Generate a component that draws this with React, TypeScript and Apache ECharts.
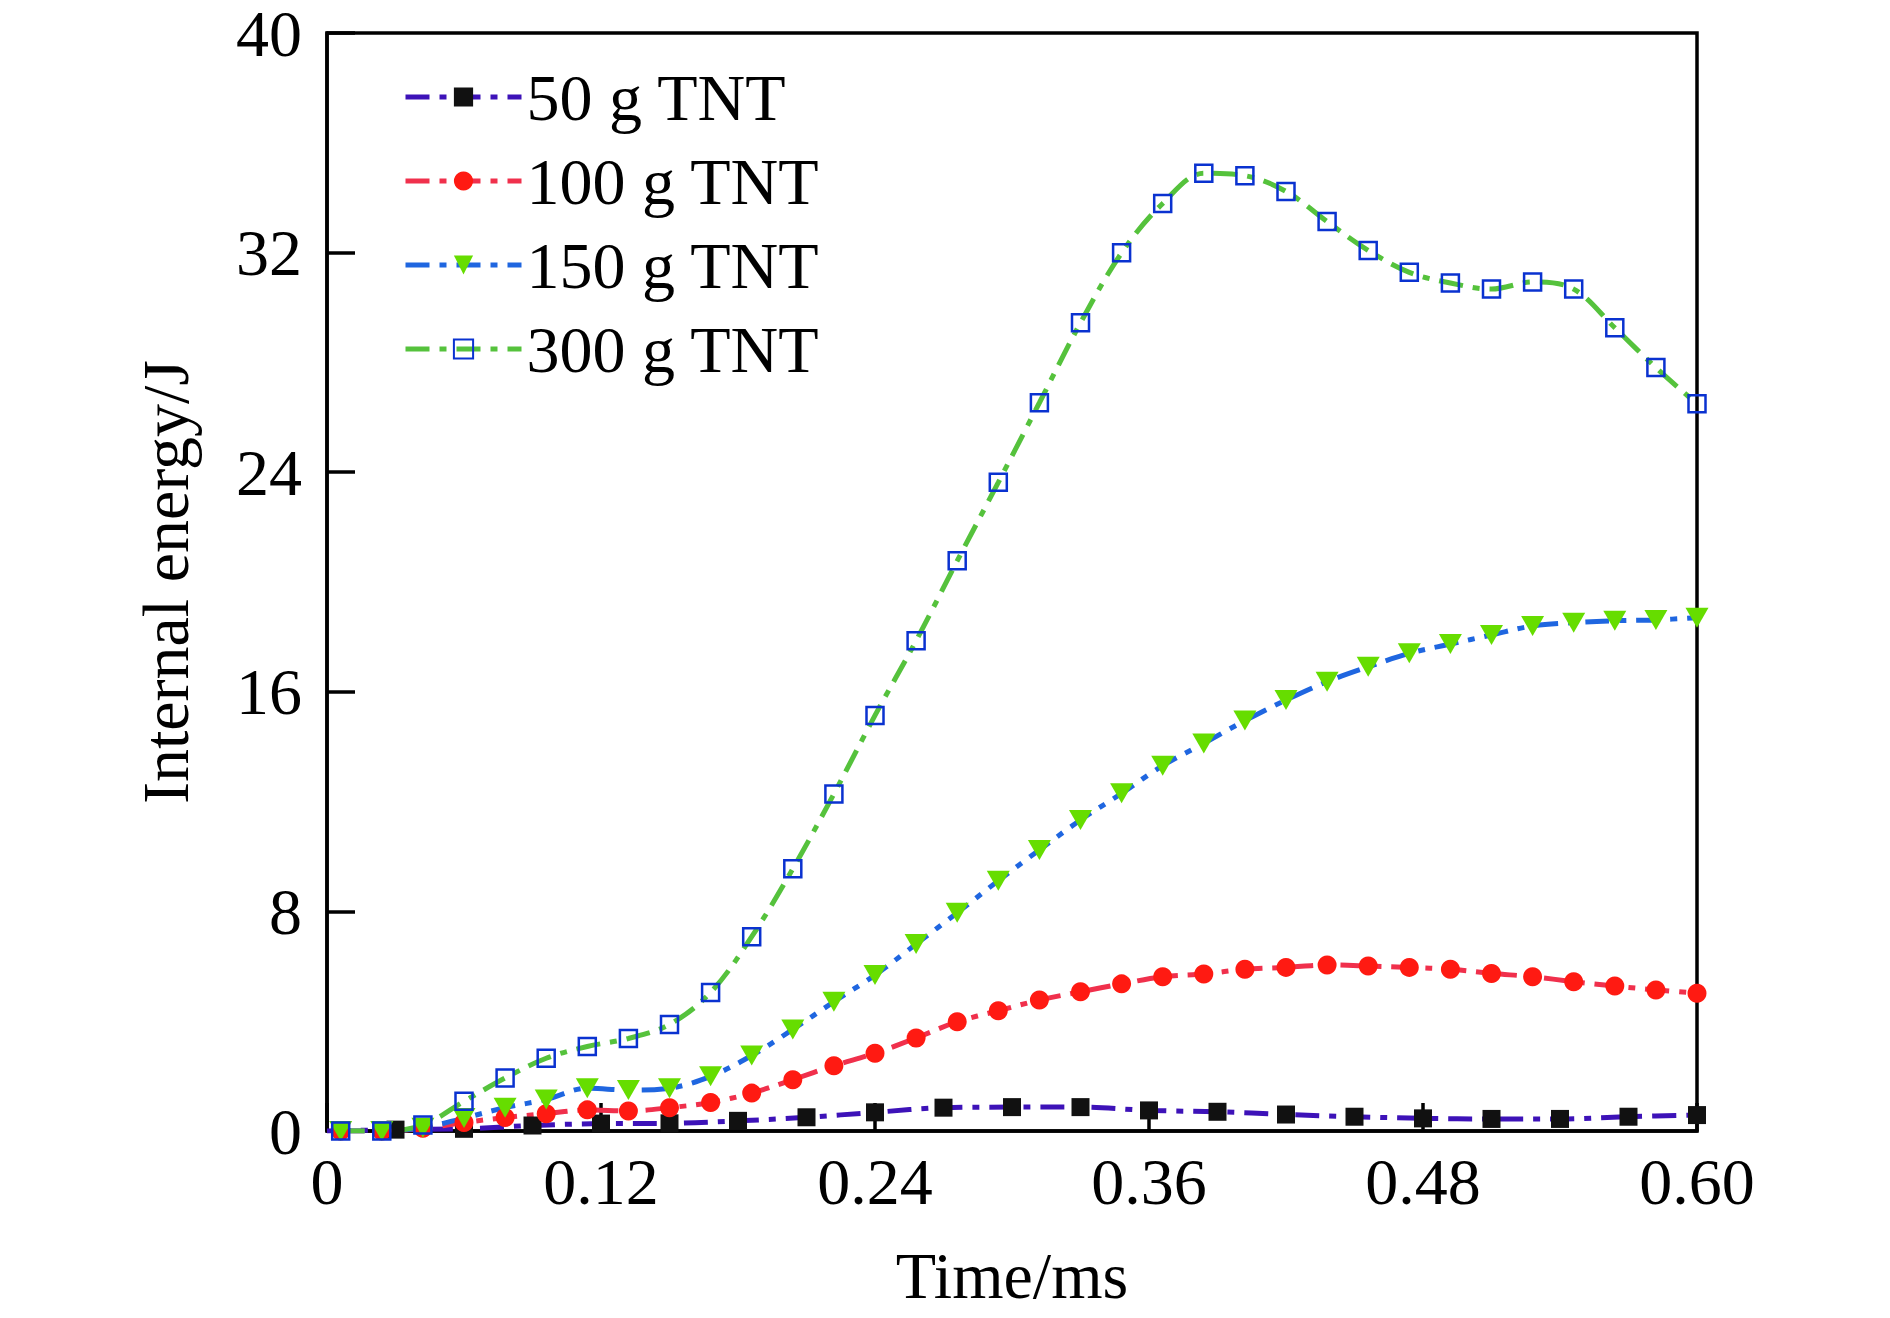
import React, { useEffect, useRef } from "react";
import * as echarts from "echarts";

const timeA = [0.006, 0.024, 0.042, 0.06, 0.078, 0.096, 0.114, 0.132, 0.15, 0.168, 0.186, 0.204, 0.222, 0.24, 0.258, 0.276, 0.294, 0.312, 0.33, 0.348, 0.366, 0.384, 0.402, 0.42, 0.438, 0.456, 0.474, 0.492, 0.51, 0.528, 0.546, 0.564, 0.582, 0.6];
const time50 = [0, 0.03, 0.06, 0.09, 0.12, 0.15, 0.18, 0.21, 0.24, 0.27, 0.3, 0.33, 0.36, 0.39, 0.42, 0.45, 0.48, 0.51, 0.54, 0.57, 0.6];

const e50 = [0, 0.05, 0.08, 0.2, 0.27, 0.28, 0.37, 0.5, 0.68, 0.85, 0.87, 0.87, 0.75, 0.7, 0.6, 0.52, 0.46, 0.44, 0.44, 0.52, 0.58];
const e100 = [0, 0, 0.1, 0.31, 0.49, 0.63, 0.77, 0.73, 0.85, 1.04, 1.38, 1.87, 2.38, 2.83, 3.39, 3.98, 4.38, 4.77, 5.07, 5.36, 5.62, 5.72, 5.89, 5.96, 6.05, 6.01, 5.96, 5.89, 5.74, 5.62, 5.44, 5.28, 5.14, 5.02];
const e150 = [0, 0, 0.12, 0.47, 0.85, 1.15, 1.56, 1.49, 1.56, 1.99, 2.75, 3.7, 4.71, 5.68, 6.81, 7.95, 9.12, 10.24, 11.33, 12.3, 13.31, 14.12, 14.95, 15.7, 16.37, 16.91, 17.4, 17.74, 18.07, 18.4, 18.52, 18.59, 18.62, 18.7];
const e300 = [0, 0, 0.22, 1.08, 1.93, 2.65, 3.08, 3.37, 3.88, 5.05, 7.08, 9.55, 12.28, 15.14, 17.86, 20.77, 23.63, 26.53, 29.44, 31.99, 33.79, 34.89, 34.8, 34.23, 33.13, 32.08, 31.28, 30.89, 30.67, 30.93, 30.67, 29.26, 27.81, 26.49];

const seriesNames = ["50 g TNT", "100 g TNT", "150 g TNT", "300 g TNT"];
const xTicks = [0, 0.12, 0.24, 0.36, 0.48, 0.6];
const yTicks = [0, 8, 16, 24, 32, 40];

const FONT = "'Liberation Serif', 'Times New Roman', serif";
const DASH = [24, 10, 7, 10];

function pairs(xs: number[], ys: number[]) {
  return xs.map((x, i) => [x, ys[i]]);
}

export default function App() {
  const ref = useRef<HTMLDivElement>(null);
  useEffect(() => {
    if (!ref.current) return;
    const chart = echarts.init(ref.current, null, { renderer: "svg" });
    const mkSeries = (
      name: string,
      data: any[],
      lineColor: string,
      symbol: string,
      symbolSize: number | number[],
      itemStyle: any
    ) => ({
      name,
      type: "line",
      data,
      smooth: 0.35,
      symbol,
      symbolSize,
      showAllSymbol: true,
      lineStyle: { color: lineColor, width: 5, type: DASH },
      itemStyle,
      z: 2,
    });
    const option: any = {
      animation: false,
      backgroundColor: "#ffffff",
      grid: {
        left: 327,
        top: 33,
        right: 193,
        bottom: 187,
        show: true,
        borderColor: "#000",
        borderWidth: 3.5,
        backgroundColor: "transparent",
      },
      legend: {
        left: 398,
        top: 59,
        orient: "vertical",
        itemWidth: 116,
        itemHeight: 24,
        itemGap: 18,
        data: seriesNames,
        lineStyle: { width: 5 },
        textStyle: { fontFamily: FONT, fontSize: 66, color: "#000", lineHeight: 66 },
      },
      xAxis: {
        type: "value",
        min: 0,
        max: 0.6,
        interval: 0.12,
        name: "Time/ms",
        nameLocation: "middle",
        nameGap: 111,
        nameTextStyle: { fontFamily: FONT, fontSize: 66, color: "#000", lineHeight: 66 },
        axisLine: { show: true, onZero: false, lineStyle: { color: "#000", width: 3.5 } },
        axisTick: { show: true, inside: true, length: 28, lineStyle: { color: "#000", width: 3.5 } },
        axisLabel: {
          margin: 17,
          fontFamily: FONT,
          fontSize: 66,
          color: "#000",
          lineHeight: 66,
          formatter: (v: number) => {
            const t = xTicks.find((x) => Math.abs(x - v) < 1e-9);
            return t === 0 ? "0" : (t ?? v).toFixed(2);
          },
        },
        splitLine: { show: false },
      },
      yAxis: {
        type: "value",
        min: 0,
        max: 40,
        interval: 8,
        name: "Internal energy/J",
        nameLocation: "middle",
        nameGap: 129,
        nameRotate: 90,
        nameTextStyle: { fontFamily: FONT, fontSize: 66, color: "#000", lineHeight: 66 },
        axisLine: { show: true, lineStyle: { color: "#000", width: 3.5 } },
        axisTick: { show: true, inside: true, length: 28, lineStyle: { color: "#000", width: 3.5 } },
        axisLabel: {
          margin: 25,
          fontFamily: FONT,
          fontSize: 66,
          color: "#000",
          lineHeight: 60,
          formatter: (v: number) => String(yTicks.find((y) => Math.abs(y - v) < 1e-9) ?? v),
        },
        splitLine: { show: false },
      },
      series: [
        mkSeries(
          seriesNames[0],
          pairs(time50, e50).map((p, i) => (i === 0 ? { value: p, symbol: "none" } : p)),
          "#3d12b8",
          "rect",
          18,
          { color: "#111111" }
        ),
        mkSeries(seriesNames[1], pairs(timeA, e100), "#f0304c", "circle", 19, { color: "#ff1a12" }),
        mkSeries(seriesNames[2], pairs(timeA, e150), "#1f66e0", "path://M0,0 L2,0 L1,1.7 Z", [23, 20], {
          color: "#66dd00",
        }),
        mkSeries(seriesNames[3], pairs(timeA, e300), "#55c23c", "rect", 17, {
          color: "rgba(255,255,255,0)",
          borderColor: "#0a32d0",
          borderWidth: 2.5,
        }),
      ],
    };
    chart.setOption(option);
    return () => chart.dispose();
  }, []);
  return (
    <div
      ref={ref}
      style={{ position: "absolute", left: 0, top: 0, width: 1890, height: 1318, background: "#fff" }}
    />
  );
}
